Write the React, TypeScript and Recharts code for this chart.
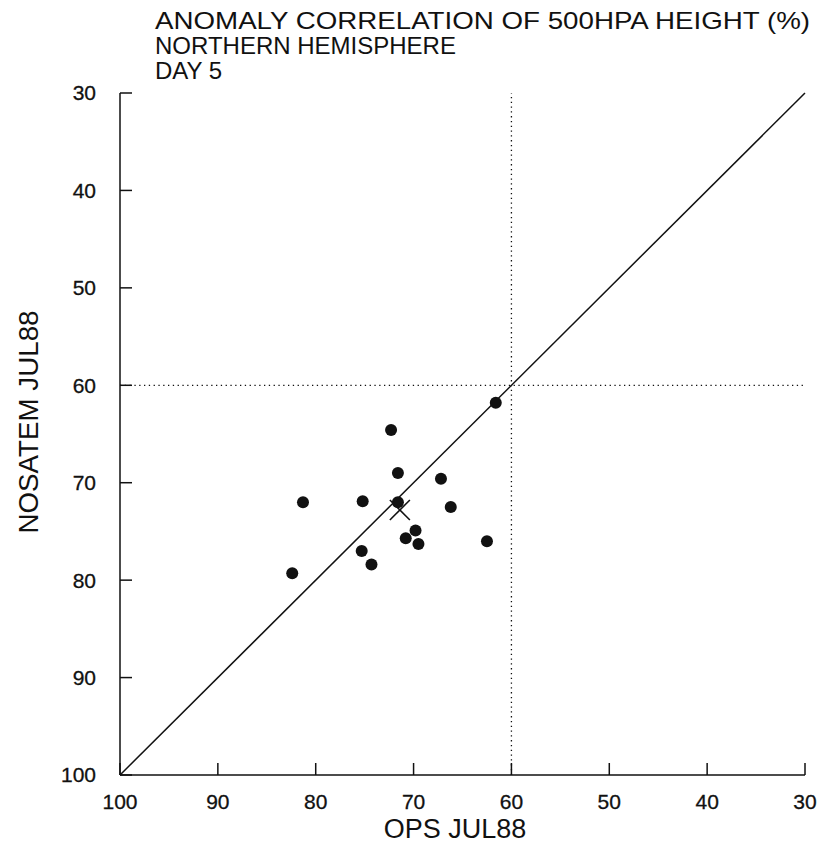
import React from 'react';
import { ScatterChart, Scatter, XAxis, YAxis, ReferenceLine, Label } from 'recharts';

// Day-5 anomaly correlation scores, one point per forecast
const opsScores = [61.6, 72.3, 71.6, 67.2, 81.3, 75.2, 71.6, 66.2, 69.8, 70.8, 69.5, 62.5, 75.3, 74.3, 82.4];
const nosatemScores = [61.8, 64.6, 69.0, 69.6, 72.0, 71.9, 72.0, 72.5, 74.9, 75.7, 76.3, 76.0, 77.0, 78.4, 79.3];
const meanOps = [71.4];
const meanNosatem = [72.8];

const xTicks = [100, 90, 80, 70, 60, 50, 40, 30];
const yTicks = [30, 40, 50, 60, 70, 80, 90, 100];
const titleLines = [
  'ANOMALY CORRELATION OF 500HPA HEIGHT (%)',
  'NORTHERN HEMISPHERE',
  'DAY 5',
];

const points = opsScores.map((x, i) => ({ x, y: nosatemScores[i] }));
const mean = meanOps.map((x, i) => ({ x, y: meanNosatem[i] }));

const FONT = '"Liberation Sans", Arial, sans-serif';
const INK = '#111';

const Dot = (props: any) => <circle cx={props.cx} cy={props.cy} r={6} fill={INK} />;

const XMark = (props: any) => {
  const s = 10;
  return (
    <g stroke={INK} strokeWidth={1.6}>
      <line x1={props.cx - s} y1={props.cy - s} x2={props.cx + s} y2={props.cy + s} />
      <line x1={props.cx - s} y1={props.cy + s} x2={props.cx + s} y2={props.cy - s} />
    </g>
  );
};

export default function App() {
  return (
    <div style={{ position: 'absolute', left: 0, top: 0, background: '#fff' }}>
      <ScatterChart width={827} height={845} margin={{ top: 93, right: 22, bottom: 0, left: 0 }}>
        {titleLines.map((t, i) => (
          <text
            key={t}
            x={155}
            y={29 + i * 25}
            fontFamily={FONT}
            fontSize={24}
            fill={INK}
            textLength={i === 0 ? 655 : undefined}
            lengthAdjust="spacingAndGlyphs"
          >
            {t}
          </text>
        ))}
        <XAxis
          type="number"
          dataKey="x"
          domain={[30, 100]}
          ticks={xTicks}
          reversed
          height={70}
          tickSize={-12}
          tickMargin={31}
          interval={0}
          stroke={INK}
          strokeWidth={1.5}
          tick={{ fill: INK, fontFamily: FONT, fontSize: 21, stroke: INK, strokeWidth: 0.3 }}
        >
          <Label
            content={() => (
              <text
                x={455}
                y={838}
                textAnchor="middle"
                fontFamily={FONT}
                fontSize={27}
                fill={INK}
              >
                OPS JUL88
              </text>
            )}
          />
        </XAxis>
        <YAxis
          type="number"
          dataKey="y"
          domain={[30, 100]}
          ticks={yTicks}
          reversed
          width={120}
          tickSize={-12}
          tickMargin={36}
          interval={0}
          stroke={INK}
          strokeWidth={1.5}
          tick={{ fill: INK, fontFamily: FONT, fontSize: 21, stroke: INK, strokeWidth: 0.3 }}
        >
          <Label
            content={() => (
              <text
                x={38}
                y={422}
                transform="rotate(-90 38 422)"
                textAnchor="middle"
                fontFamily={FONT}
                fontSize={28}
                fill={INK}
                textLength={223}
                lengthAdjust="spacingAndGlyphs"
              >
                NOSATEM JUL88
              </text>
            )}
          />
        </YAxis>
        <ReferenceLine x={60} stroke={INK} strokeWidth={1.3} strokeDasharray="1.3 3.5" />
        <ReferenceLine y={60} stroke={INK} strokeWidth={1.3} strokeDasharray="1.3 3.5" />
        <ReferenceLine
          segment={[{ x: 100, y: 100 }, { x: 30, y: 30 }]}
          stroke={INK}
          strokeWidth={1.5}
        />
        <Scatter data={points} shape={Dot} isAnimationActive={false} />
        <Scatter data={mean} shape={XMark} isAnimationActive={false} />
      </ScatterChart>
    </div>
  );
}
